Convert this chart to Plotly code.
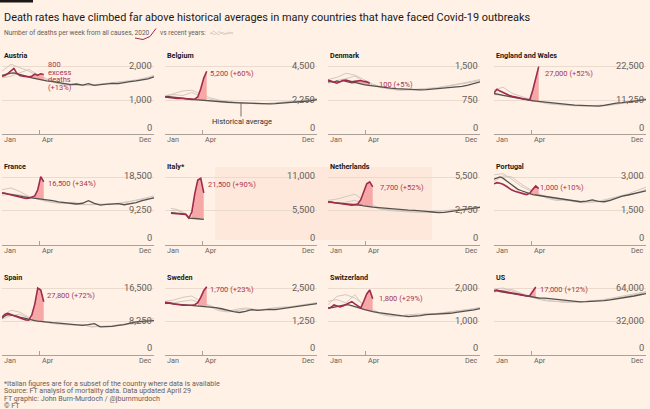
import plotly.graph_objects as go

# ------------------------------------------------------------------ data
COUNTRIES = ["Austria", "Belgium", "Denmark", "England and Wales",
             "France", "Italy*", "Netherlands", "Portugal",
             "Spain", "Sweden", "Switzerland", "US"]
TOP_TICK = [2000, 4500, 1500, 22500, 18500, 11000, 5500, 3000, 16500, 2500, 2000, 64000]
EXCESS_TEXT = ["800<br>excess<br>deaths<br>(+13%)", "5,200 (+60%)", "100 (+5%)", "27,000 (+52%)",
               "16,500 (+34%)", "21,500 (+90%)", "7,700 (+52%)", "1,000 (+10%)",
               "27,800 (+72%)", "1,700 (+23%)", "1,800 (+29%)", "17,000 (+12%)"]
FILL_FROM = [11, 12, 10, 13, 12, 10, 11, 13, 11, 12, 12, 1]
MONTHS = ["Jan", "Apr", "Dec"]
MONTH_WEEK = [1, 13.7, 52]

AVG_WEEKS = list(range(1, 17)) + list(range(18, 53, 2))
GREY_WEEKS = list(range(1, 53, 3))
ITALY_WEEKS = list(range(3, 15))
ITALY_GREY_WEEKS = [3, 5, 7, 9, 11, 13, 14]

austria_2020 = [1700, 1720, 1780, 1850, 1930, 1780, 1720, 1700, 1690, 1680, 1700, 1760, 1730, 1770, 1750]
austria_avg = [1720, 1750, 1760, 1790, 1800, 1780, 1750, 1720, 1700, 1680, 1650, 1630, 1610, 1590, 1570, 1560,
               1540, 1510, 1480, 1450, 1470, 1440, 1480, 1430, 1450, 1470, 1490, 1480, 1520, 1540, 1560, 1580, 1620, 1680]
austria_g1 = [1850, 2050, 1950, 1850, 1700, 1600, 1500, 1450, 1430, 1450, 1420, 1460, 1480, 1500, 1540, 1580, 1620, 1700]
austria_g2 = [1650, 1700, 1800, 1900, 1750, 1620, 1540, 1480, 1460, 1420, 1440, 1470, 1490, 1520, 1550, 1590, 1650, 1720]

belgium_2020 = [2450, 2420, 2400, 2380, 2360, 2370, 2340, 2320, 2310, 2290, 2300, 2450, 3000, 3700, 4150]
belgium_avg = [2450, 2480, 2460, 2430, 2420, 2400, 2380, 2350, 2330, 2300, 2280, 2260, 2250, 2230, 2200, 2180,
               2150, 2120, 2100, 2080, 2060, 2040, 2060, 2020, 2000, 1990, 2010, 2040, 2060, 2100, 2120, 2150, 2200, 2280]
belgium_g1 = [2500, 2700, 2850, 2900, 2650, 2400, 2250, 2150, 2100, 2050, 2000, 2000, 2050, 2100, 2150, 2200, 2300, 2350]
belgium_g2 = [2550, 2600, 2550, 2750, 2500, 2300, 2200, 2100, 2050, 2000, 2050, 2020, 2000, 2080, 2150, 2180, 2250, 2300]

denmark_2020 = [1190, 1170, 1140, 1120, 1150, 1180, 1190, 1170, 1150, 1160, 1170, 1180, 1160, 1150, 1120]
denmark_avg = [1150, 1160, 1140, 1170, 1150, 1180, 1160, 1150, 1130, 1140, 1120, 1100, 1090, 1080, 1070, 1060,
               1050, 1030, 1010, 1000, 990, 980, 970, 975, 980, 990, 1000, 1010, 1020, 1030, 1050, 1080, 1120, 1150]
denmark_g1 = [1200, 1250, 1340, 1300, 1200, 1100, 1040, 1000, 980, 970, 990, 1000, 1020, 1040, 1070, 1100, 1140, 1180]
denmark_g2 = [1120, 1180, 1220, 1280, 1150, 1080, 1020, 990, 960, 980, 970, 990, 1010, 1050, 1080, 1120, 1160, 1200]

ew_2020 = [13600, 14800, 14200, 13700, 13200, 12800, 12500, 12200, 12000, 11800, 11600, 11400, 11300, 14500, 18500, 22300]
ew_avg = [13400, 13300, 13000, 12800, 12600, 12400, 12200, 12000, 11800, 11600, 11500, 11300, 11200, 11000, 10900, 10800,
          10600, 10300, 10000, 9800, 9650, 9550, 9500, 9450, 9400, 9250, 9500, 9900, 10200, 10400, 10600, 10900, 11200, 11400]
ew_g1 = [14500, 15500, 13500, 12500, 11500, 10800, 10200, 9800, 9600, 9500, 9400, 9300, 9300, 9500, 9900, 10300, 10900, 11500]
ew_g2 = [13000, 12800, 12600, 12000, 11200, 10600, 10000, 9700, 9500, 9300, 9250, 9350, 9450, 9700, 10100, 10500, 11200, 11800]

france_2020 = [14200, 14000, 13800, 13500, 13300, 13000, 12900, 12700, 12600, 12700, 12900, 13300, 15000, 18600, 17200]
france_avg = [14000, 14100, 13900, 13700, 13600, 13400, 13300, 13100, 13000, 12900, 12800, 12700, 12600, 12500, 12400, 12300,
              12000, 11700, 11500, 11300, 11100, 11300, 12000, 11300, 10800, 11000, 11100, 11200, 10900, 11100, 11500, 12000, 12500, 12800]
france_g1 = [15000, 15500, 14500, 13200, 12500, 11800, 11400, 11200, 11600, 11000, 10900, 11000, 11000, 11200, 11600, 12100, 12800, 13300]
france_g2 = [13500, 13800, 13600, 13000, 12400, 11900, 11500, 11200, 11100, 10900, 11000, 11100, 10900, 11300, 11500, 11900, 12400, 12900]

italy_2020 = [5100, 5050, 5000, 5000, 4950, 4900, 4300, 5300, 8300, 10500, 10800, 8400]
italy_avg = [5200, 5150, 5100, 5050, 5000, 4950, 4300, 4300, 4250, 4200, 4150, 4100]
italy_g1 = [5900, 5700, 5300, 4600, 4400, 4300, 4200]
italy_g2 = [5500, 5600, 5100, 4400, 4300, 4200, 4100]

nl_2020 = [3480, 3450, 3400, 3350, 3300, 3280, 3300, 3250, 3200, 3250, 3300, 3650, 4300, 4950, 5100, 4700]
nl_avg = [3450, 3480, 3420, 3400, 3380, 3360, 3350, 3330, 3300, 3280, 3250, 3200, 3150, 3100, 3080, 3050,
          3000, 2950, 2900, 2870, 2850, 2800, 2780, 2760, 2700, 2650, 2600, 2620, 2680, 2750, 2820, 2880, 2950, 3030]
nl_g1 = [3600, 3700, 3900, 4100, 3600, 3200, 2900, 2800, 2750, 2700, 2650, 2600, 2650, 2750, 2850, 2900, 3000, 3100]
nl_g2 = [3400, 3350, 3450, 3600, 3300, 3050, 2850, 2750, 2700, 2650, 2620, 2680, 2700, 2720, 2800, 2850, 2950, 3000]

portugal_2020 = [2700, 2750, 2720, 2680, 2600, 2500, 2420, 2370, 2320, 2280, 2250, 2220, 2280, 2450, 2600, 2480]
portugal_avg = [2900, 2950, 3000, 2950, 2850, 2750, 2650, 2550, 2450, 2400, 2350, 2300, 2250, 2220, 2200, 2180,
                2120, 2080, 2030, 2000, 1960, 1920, 1900, 1930, 1980, 1920, 1900, 1960, 2050, 2150, 2200, 2270, 2330, 2380]
portugal_g1 = [3100, 3150, 2900, 2600, 2400, 2200, 2050, 1950, 2000, 1900, 1850, 1900, 1950, 2050, 2150, 2250, 2400, 2550]
portugal_g2 = [2800, 3050, 3000, 2700, 2450, 2250, 2100, 2000, 1950, 1950, 1900, 1880, 1920, 2000, 2100, 2200, 2300, 2450]

spain_2020 = [9200, 10000, 10200, 9900, 9600, 9300, 9000, 8800, 8600, 8500, 9800, 12500, 16500, 16000, 13100]
spain_avg = [9000, 9600, 9900, 9800, 9700, 9500, 9300, 9100, 8900, 8700, 8550, 8400, 8300, 8200, 8100, 8000,
             7900, 7800, 7700, 7550, 7400, 7250, 7400, 7650, 6850, 6900, 7000, 7200, 7400, 7800, 8100, 8200, 8300, 8400]
spain_g1 = [9500, 11000, 10500, 9200, 8500, 8000, 7700, 7500, 7400, 7300, 7000, 6900, 7100, 7300, 7600, 7900, 8400, 8900]
spain_g2 = [8800, 9600, 10000, 9000, 8300, 7900, 7600, 7400, 7300, 7500, 6800, 7000, 7000, 7200, 7400, 7700, 8000, 8400]

sweden_2020 = [1960, 1950, 1930, 1900, 1880, 1860, 1850, 1850, 1840, 1850, 1870, 1950, 2150, 2400, 2550]
sweden_avg = [1920, 1930, 1910, 1900, 1900, 1890, 1880, 1880, 1870, 1860, 1850, 1840, 1830, 1820, 1800, 1790,
              1760, 1720, 1660, 1610, 1580, 1620, 1690, 1660, 1680, 1700, 1690, 1720, 1740, 1770, 1800, 1840, 1880, 1910]
sweden_g1 = [2000, 2050, 2150, 2200, 2000, 1800, 1650, 1600, 1650, 1700, 1650, 1700, 1720, 1750, 1800, 1850, 1900, 1950]
sweden_g2 = [1900, 1950, 1980, 2050, 1950, 1850, 1700, 1620, 1700, 1750, 1700, 1680, 1750, 1780, 1780, 1820, 1880, 1940]

swiss_2020 = [1390, 1420, 1490, 1450, 1430, 1460, 1500, 1560, 1590, 1520, 1450, 1400, 1600, 1820, 1940, 1680]
swiss_avg = [1390, 1400, 1420, 1440, 1460, 1480, 1500, 1490, 1470, 1450, 1420, 1390, 1360, 1330, 1310, 1290,
             1260, 1230, 1200, 1180, 1160, 1140, 1150, 1170, 1200, 1210, 1200, 1220, 1240, 1270, 1290, 1310, 1340, 1380]
swiss_g1 = [1500, 1750, 1800, 1700, 1500, 1300, 1200, 1150, 1170, 1180, 1220, 1200, 1230, 1260, 1290, 1320, 1350, 1400]
swiss_g2 = [1600, 1650, 1550, 1800, 1450, 1350, 1220, 1180, 1150, 1200, 1180, 1240, 1220, 1250, 1280, 1310, 1360, 1420]

us_2020 = [61500, 62000, 61200, 60800, 60300, 59800, 59200, 58800, 58200, 57600, 57000, 56300, 56500, 60500, 65000]
us_avg = [61000, 61500, 60500, 60000, 59500, 59000, 58500, 58000, 57500, 57000, 56500, 56000, 55500, 55000, 54700, 54400,
          54200, 53600, 52800, 52000, 51500, 51000, 50700, 50800, 51000, 51300, 51800, 52500, 53300, 54200, 55200, 56300, 57500, 58500]
us_g1 = [63000, 64000, 61000, 58000, 56000, 53000, 51500, 51000, 50500, 50500, 51000, 51500, 52500, 54000, 55500, 57000, 59000, 60500]
us_g2 = [60000, 62000, 62500, 59000, 56500, 54000, 52000, 51000, 50000, 50500, 50800, 51200, 52000, 53000, 54500, 56000, 58000, 60000]

SERIES_2020 = [austria_2020, belgium_2020, denmark_2020, ew_2020, france_2020, italy_2020,
               nl_2020, portugal_2020, spain_2020, sweden_2020, swiss_2020, us_2020]
SERIES_AVG = [austria_avg, belgium_avg, denmark_avg, ew_avg, france_avg, italy_avg,
              nl_avg, portugal_avg, spain_avg, sweden_avg, swiss_avg, us_avg]
SERIES_GREY = [(austria_g1, austria_g2), (belgium_g1, belgium_g2), (denmark_g1, denmark_g2), (ew_g1, ew_g2),
               (france_g1, france_g2), (italy_g1, italy_g2), (nl_g1, nl_g2), (portugal_g1, portugal_g2),
               (spain_g1, spain_g2), (sweden_g1, sweden_g2), (swiss_g1, swiss_g2), (us_g1, us_g2)]

TITLE = "Death rates have climbed far above historical averages in many countries that have faced Covid-19 outbreaks"
SUB_A = "Number of deaths per week from all causes, 2020"
SUB_B = "vs recent years:"
FOOTER = ["*Italian figures are for a subset of the country where data is available",
          "Source: FT analysis of mortality data. Data updated April 29",
          "FT graphic: John Burn-Murdoch / @jburnmurdoch",
          "\u00a9 FT"]

# ------------------------------------------------------------------ style / layout
W, H = 650, 409
BG = "#fff1e5"
FONT = "Roboto, Lato, sans-serif"
C2020 = "#a02b4c"
CTXT = "#a63552"
CFILL = "#f6a8a6"
CAVG = "#55504c"
CGREY = "#d3c8bf"
CAXIS = "#aaa198"
CGRID = "#eadbce"
CLAB = "#66605c"

COL_X = [2, 165, 328, 494]
PANEL_W = 152
ROW_TOP = [66, 177, 288]
ROW_ZERO = [134, 244.5, 354.5]
HEAD = 1.2
LABEL_XY = [(46, 64.5), (208, 73), (377, 84), (543, 73), (46, 183), (206, 185),
            (378, 187), (538, 187), (45, 295), (208, 289), (377, 298), (538, 289)]


def px(x):
    return x / W


def py(y):
    return 1 - y / H


fig = go.Figure()
ann = []
shapes = []

for i, name in enumerate(COUNTRIES):
    r, c = divmod(i, 4)
    n = "" if i == 0 else str(i + 1)
    xa, ya = "x" + n, "y" + n
    x0 = COL_X[c]
    x1 = x0 + PANEL_W
    z, t = ROW_ZERO[r], ROW_TOP[r]
    top = TOP_TICK[i]
    is_italy = name.startswith("Italy")
    w2020 = ITALY_WEEKS if is_italy else list(range(1, len(SERIES_2020[i]) + 1))
    wavg = ITALY_WEEKS if is_italy else AVG_WEEKS
    wgrey = ITALY_GREY_WEEKS if is_italy else GREY_WEEKS
    v2020 = SERIES_2020[i]
    vavg = SERIES_AVG[i]

    fig.update_layout({
        "xaxis" + n: dict(domain=[px(x0), px(x1)], range=[1, 52], anchor=ya,
                          showgrid=False, zeroline=False, showline=True, linecolor=CAXIS,
                          linewidth=1, ticks="inside", ticklen=4, tickcolor=CAXIS, tickwidth=1,
                          tickvals=MONTH_WEEK, showticklabels=False, fixedrange=True),
        "yaxis" + n: dict(domain=[py(z), py(z - (z - t) * HEAD)], range=[0, top * HEAD], anchor=xa,
                          showgrid=True, gridcolor=CGRID, gridwidth=1, zeroline=False,
                          showline=False, tickvals=[top / 2, top], showticklabels=False,
                          ticks="", fixedrange=True),
    })

    for g in SERIES_GREY[i]:
        fig.add_trace(go.Scatter(x=wgrey, y=g, mode="lines", xaxis=xa, yaxis=ya,
                                 line=dict(color=CGREY, width=1), hoverinfo="skip", showlegend=False))

    avg_lookup = dict(zip(wavg, vavg))
    fw = [w for w in w2020 if w >= FILL_FROM[i]]
    fv = [v for w, v in zip(w2020, v2020) if w >= FILL_FROM[i]]
    poly_x = fw + fw[::-1]
    poly_y = fv + [avg_lookup[w] for w in fw[::-1]]
    fig.add_trace(go.Scatter(x=poly_x, y=poly_y, mode="lines", fill="toself", fillcolor=CFILL,
                             line=dict(width=0, color=CFILL), xaxis=xa, yaxis=ya,
                             hoverinfo="skip", showlegend=False))

    fig.add_trace(go.Scatter(x=wavg, y=vavg, mode="lines", xaxis=xa, yaxis=ya,
                             line=dict(color=CAVG, width=1.3), hoverinfo="skip", showlegend=False))
    fig.add_trace(go.Scatter(x=w2020, y=v2020, mode="lines", xaxis=xa, yaxis=ya,
                             line=dict(color=C2020, width=1.6), hoverinfo="skip", showlegend=False))

    # panel title
    ann.append(dict(text="<b>%s</b>" % name, x=px(x0), y=py(t - 11), xref="paper", yref="paper",
                    xanchor="left", yanchor="middle", showarrow=False,
                    font=dict(family=FONT, size=7.2, color="#1a1817")))
    # y labels
    for v in [0, top // 2 if top % 2 == 0 else top / 2, top]:
        ann.append(dict(text="{:,}".format(int(v)), x=px(x1), y=v, xref="paper", yref=ya,
                        xanchor="right", yanchor="middle", showarrow=False,
                        yshift=7 if v == 0 else 1,
                        font=dict(family=FONT, size=9.3, color=CLAB)))
    # x labels
    for m, wk in zip(MONTHS, MONTH_WEEK):
        ann.append(dict(text=m, x=wk, y=py(z + 5.5), xref=xa, yref="paper",
                        xanchor="right" if m == "Dec" else "left", yanchor="middle",
                        showarrow=False, font=dict(family=FONT, size=7.2, color=CLAB)))
    # excess label
    lx, ly = LABEL_XY[i]
    for k, line in enumerate(EXCESS_TEXT[i].split("<br>")):
        ann.append(dict(text=line, x=px(lx), y=py(ly + 7.7 * k), xref="paper", yref="paper",
                        xanchor="left", yanchor="middle", showarrow=False,
                        font=dict(family=FONT, size=7.5, color=CTXT)))

# Historical average callout (Belgium)
ann.append(dict(text="Historical average", x=px(242), y=py(122), xref="paper", yref="paper",
                xanchor="center", yanchor="middle", showarrow=False,
                font=dict(family=FONT, size=7.5, color="#33302e")))
shapes.append(dict(type="line", xref="paper", yref="paper", x0=px(241), x1=px(241),
                   y0=py(103), y1=py(116.5), line=dict(color=CAVG, width=0.8)))

# Title, subtitle, footer
ann.append(dict(text=TITLE, x=px(2), y=py(17), xref="paper", yref="paper", xanchor="left",
                yanchor="middle", showarrow=False, font=dict(family=FONT, size=10.9, color="#1a1817")))
ann.append(dict(text=SUB_A, x=px(2), y=py(33), xref="paper", yref="paper", xanchor="left",
                yanchor="middle", showarrow=False, font=dict(family=FONT, size=6.6, color=CLAB)))
ann.append(dict(text=SUB_B, x=px(158), y=py(33), xref="paper", yref="paper", xanchor="left",
                yanchor="middle", showarrow=False, font=dict(family=FONT, size=6.6, color=CLAB)))
for k, line in enumerate(FOOTER):
    ann.append(dict(text=line, x=px(2), y=py(383 + 7.5 * k), xref="paper", yref="paper",
                    xanchor="left", yanchor="middle", showarrow=False,
                    font=dict(family=FONT, size=7.1, color=CLAB)))


def pth(pts, cmd):
    out = []
    for c_, (x, y) in zip(cmd, pts):
        out.append("%s %.5f,%.5f" % (c_, px(x), py(y)))
    return " ".join(out)


# legend-style glyphs in the subtitle
shapes.append(dict(type="path", xref="paper", yref="paper",
                   path=pth([(135, 38), (143, 39.5), (150, 36.5), (156, 28.5)], ["M", "L", "L", "L"]),
                   line=dict(color=C2020, width=1)))
shapes.append(dict(type="path", xref="paper", yref="paper",
                   path=pth([(210, 34), (214, 31), (218, 35), (222, 32.5), (227, 34), (233, 32.5)],
                            ["M", "L", "L", "L", "L", "L"]),
                   line=dict(color=CGREY, width=0.8)))
shapes.append(dict(type="path", xref="paper", yref="paper",
                   path=pth([(210, 33), (215, 34.5), (219, 31.5), (224, 34.5), (229, 32), (233, 34)],
                            ["M", "L", "L", "L", "L", "L"]),
                   line=dict(color=CGREY, width=0.8)))
# FT top bar
shapes.append(dict(type="rect", xref="paper", yref="paper", x0=0, x1=px(33), y0=py(2.5), y1=1,
                   fillcolor="#1a1817", line=dict(width=0)))
# faint watermark panel
shapes.append(dict(type="rect", xref="paper", yref="paper", x0=px(215), x1=px(432), y0=py(240), y1=py(167),
                   fillcolor="rgba(236,120,120,0.07)", line=dict(width=0), layer="below"))

fig.update_layout(width=W, height=H, margin=dict(l=0, r=0, t=0, b=0),
                  paper_bgcolor=BG, plot_bgcolor="rgba(0,0,0,0)",
                  annotations=ann, shapes=shapes, showlegend=False,
                  font=dict(family=FONT))

fig.write_html("out.html", config={"displayModeBar": False},
               post_script="document.body.style.margin='0';document.body.style.overflow='hidden';"
                           "document.body.style.background='%s';" % BG)
